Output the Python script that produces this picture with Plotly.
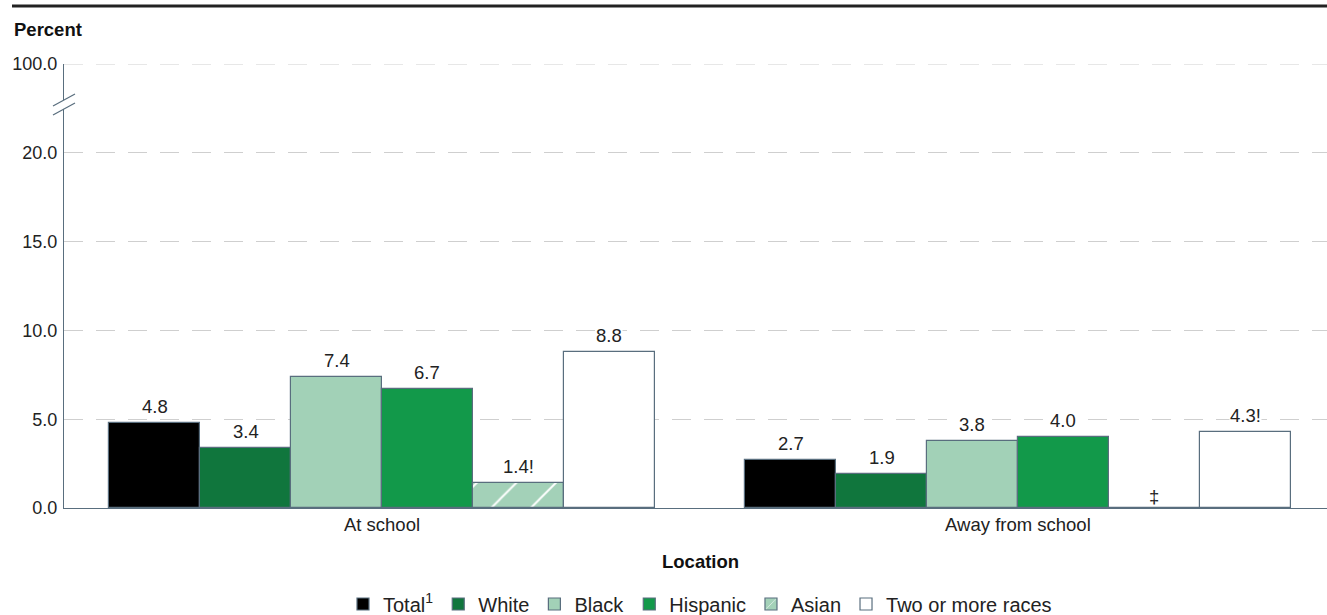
import plotly.graph_objects as go

# Data
locations = ["At school", "Away from school"]
groups = ["Total<sup>1</sup>", "White", "Black", "Hispanic", "Asian", "Two or more races"]
at_school = [4.8, 3.4, 7.4, 6.7, 1.4, 8.8]
away_from_school = [2.7, 1.9, 3.8, 4.0, None, 4.3]
at_school_labels = ["4.8", "3.4", "7.4", "6.7", "1.4!", "8.8"]
away_labels = ["2.7", "1.9", "3.8", "4.0", "‡", "4.3!"]
y_tick_vals = [0, 5, 10, 15, 20, 25]
y_tick_text = ["0.0", "5.0", "10.0", "15.0", "20.0", "100.0"]

colors = ["#000000", "#10763d", "#a2d1b7", "#12994a", "#a3d1b8", "#ffffff"]
outline = "#596e7e"
FONT = "Liberation Sans, Arial, sans-serif"
TXT = 18.5

W, H = 1327, 615
ML, MT, MB = 64, 64, 107
bar_w = 0.143
x_right = 1.486

fig = go.Figure()
annotations = []

for i, name in enumerate(groups):
    off = (i - 2.5) * bar_w
    xs = [0 + off, 1 + off]
    ys = [at_school[i], away_from_school[i]]
    marker = dict(color=colors[i], line=dict(color=outline, width=1.2))
    if name == "Asian":
        marker["pattern"] = dict(shape="/", fgcolor="#ffffff", size=28, solidity=0.07,
                                 fillmode="replace", bgcolor=colors[i])
    fig.add_trace(go.Bar(
        x=xs, y=[v if v is not None else 0 for v in ys], width=bar_w, name=name,
        marker=marker, hoverinfo="skip",
    ))
    for xv, yv, lab in zip(xs, ys, [at_school_labels[i], away_labels[i]]):
        if yv is None:
            annotations.append(dict(x=xv, y=0, xref="x", yref="y", text=lab,
                                    showarrow=False, yanchor="bottom", yshift=-1,
                                    font=dict(size=TXT, color="#222222", family=FONT)))
        else:
            annotations.append(dict(x=xv, y=yv, xref="x", yref="y", text=lab,
                                    showarrow=False, yanchor="bottom", yshift=5,
                                    bgcolor="#ffffff", borderpad=0,
                                    font=dict(size=TXT, color="#222222", family=FONT)))

plot_w = W - ML
center_paper = (700 - ML) / plot_w
plot_h = H - MT - MB

def py(pix):
    return (H - MB - pix) / plot_h

annotations.append(dict(x=(12 - ML) / plot_w, y=py(29), xref="paper", yref="paper",
                        text="<b>Percent</b>", showarrow=False, xanchor="left",
                        yanchor="middle", font=dict(size=TXT, color="#111111", family=FONT)))
annotations.append(dict(x=center_paper, y=py(561), xref="paper", yref="paper",
                        text="<b>Location</b>", showarrow=False, xanchor="center",
                        yanchor="middle", font=dict(size=TXT, color="#111111", family=FONT)))

grid_dash = "19px,13px"
shapes = [
    # rule across the top
    dict(type="line", xref="paper", yref="paper", x0=(12 - ML) / plot_w, x1=1.0,
         y0=py(6), y1=py(6), line=dict(color="#222222", width=3)),
    # gridline at the top of the broken scale
    dict(type="line", xref="paper", yref="y", x0=0, x1=1, y0=25, y1=25,
         line=dict(color="#cfcfcf", width=1, dash=grid_dash), layer="below"),
    # axis break
    dict(type="rect", xref="paper", yref="y", xanchor=0, xsizemode="pixel",
         x0=-3, x1=3, y0=22.47, y1=22.97, fillcolor="#ffffff", line=dict(width=0),
         layer="above"),
    dict(type="line", xref="paper", yref="y", xanchor=0, xsizemode="pixel",
         yanchor=22.97, ysizemode="pixel", x0=-11, x1=11, y0=-6, y1=6,
         line=dict(color=outline, width=1.2), layer="above"),
    dict(type="line", xref="paper", yref="y", xanchor=0, xsizemode="pixel",
         yanchor=22.47, ysizemode="pixel", x0=-11, x1=11, y0=-6, y1=6,
         line=dict(color=outline, width=1.2), layer="above"),
]

fig.update_layout(
    width=W, height=H,
    margin=dict(l=ML, r=0, t=MT, b=MB, pad=0, autoexpand=False),
    paper_bgcolor="#ffffff", plot_bgcolor="#ffffff",
    barmode="overlay", bargap=0,
    font=dict(family=FONT, size=TXT, color="#222222"),
    showlegend=True,
    legend=dict(orientation="h", x=center_paper, xanchor="center", y=py(604),
                yanchor="middle", font=dict(size=20, color="#222222", family=FONT),
                traceorder="normal", itemclick=False, itemwidth=30),
    annotations=annotations,
    shapes=shapes,
    xaxis=dict(range=[-0.5, x_right], tickvals=[0, 1], ticktext=locations,
               showline=True, linecolor=outline, linewidth=1.2, showgrid=False,
               zeroline=False, ticks="", tickfont=dict(size=TXT, color="#222222")),
    yaxis=dict(range=[0, 25], tickvals=y_tick_vals, ticktext=y_tick_text,
               showline=True, linecolor=outline, linewidth=1.2, showgrid=True,
               gridcolor="#cfcfcf", gridwidth=1, griddash=grid_dash,
               zeroline=False, ticks="", ticklabelstandoff=2,
               tickfont=dict(size=18, color="#222222")),
)

fig.write_html("out.html")
